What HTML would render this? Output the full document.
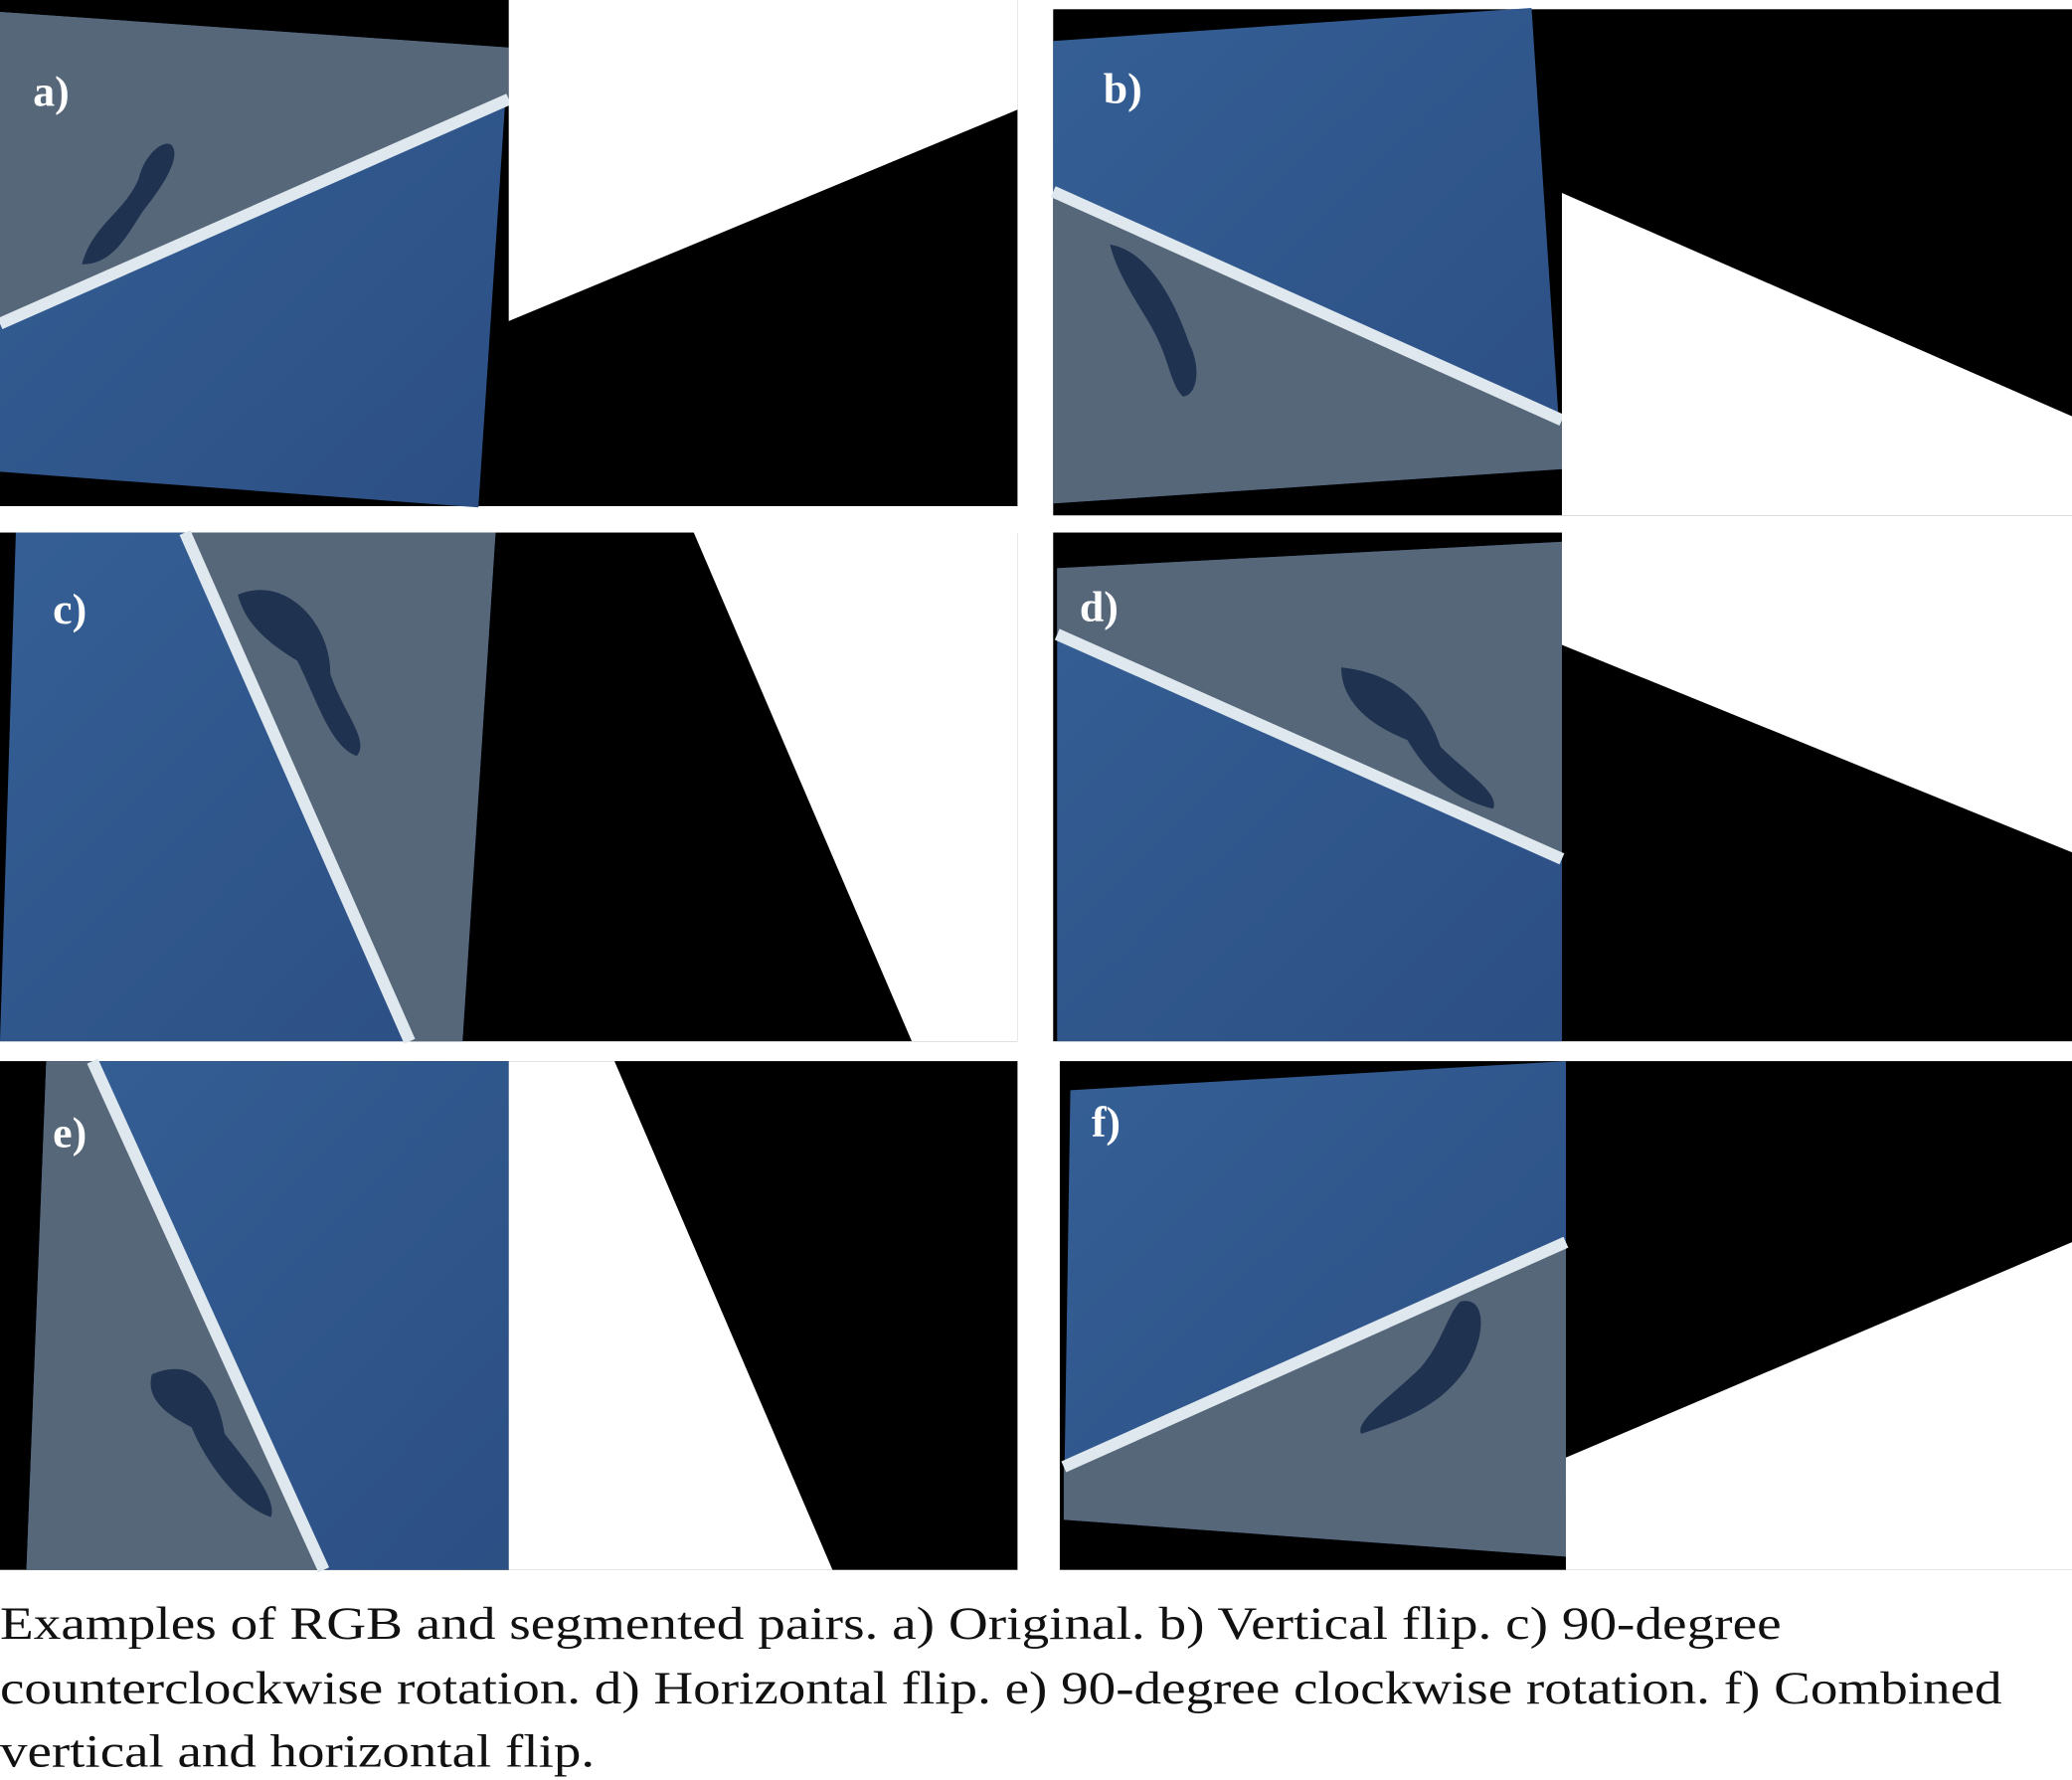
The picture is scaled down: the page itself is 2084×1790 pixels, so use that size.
<!DOCTYPE html>
<html><head><meta charset="utf-8"><style>
html,body{margin:0;padding:0;background:#fff;width:2084px;height:1790px;overflow:hidden}
svg{display:block}
.lbl{font-family:"Liberation Serif",serif;font-weight:bold;font-size:33px;fill:#fff}
.cap{font-family:"Liberation Serif",serif;font-size:35px;fill:#111}
</style></head><body>
<svg width="2084" height="1790" viewBox="0 0 1568 1347" preserveAspectRatio="none" xmlns="http://www.w3.org/2000/svg">
<defs>
<linearGradient id="sea" x1="0" y1="0" x2="1" y2="1"><stop offset="0" stop-color="#345f95"/><stop offset="1" stop-color="#2c4f84"/></linearGradient>
</defs>
<!-- a -->
<g>
<rect x="0" y="0" width="770" height="383" fill="#000"/>
<polygon points="0,9 385,36 362,384 0,357" fill="url(#sea)"/>
<polygon points="0,9 385,36 385,75 0,245" fill="#56677a"/>
<line x1="0" y1="245" x2="385" y2="75" stroke="#dfe8ee" stroke-width="9"/>
<path d="M62,200 C70,170 95,160 105,135 C110,115 125,105 130,110 C138,120 120,145 108,160 C95,180 85,200 62,200Z" fill="#1f3250"/>
<polygon points="385,0 770,0 770,83 385,243" fill="#fff"/>
<text class="lbl" x="25" y="80">a)</text>
</g>
<!-- b -->
<g>
<rect x="797" y="7" width="771" height="383" fill="#000"/>
<polygon points="797,31 1159,6 1182,355 797,381" fill="url(#sea)"/>
<polygon points="797,145 1182,318 1182,355 797,381" fill="#56677a"/>
<line x1="797" y1="145" x2="1182" y2="318" stroke="#dfe8ee" stroke-width="9"/>
<path d="M840,185 C870,190 890,230 900,260 C910,280 905,300 895,300 C885,290 885,270 870,245 C855,220 845,205 840,185Z" fill="#1f3250"/>
<polygon points="1182,146 1568,315 1568,390 1182,390" fill="#fff"/>
<text class="lbl" x="835" y="78">b)</text>
</g>
<!-- c -->
<g>
<rect x="0" y="403" width="770" height="385" fill="#000"/>
<polygon points="12,403 375,403 350,788 0,788" fill="url(#sea)"/>
<polygon points="140,403 375,403 350,788 310,788" fill="#56677a"/>
<line x1="140" y1="403" x2="310" y2="788" stroke="#dfe8ee" stroke-width="9"/>
<path d="M180,450 C215,435 250,470 250,510 C260,540 280,560 270,572 C250,565 240,530 225,500 C200,485 185,470 180,450Z" fill="#1f3250"/>
<polygon points="525,403 770,403 770,788 690,788" fill="#fff"/>
<text class="lbl" x="40" y="472">c)</text>
</g>
<!-- d -->
<g>
<rect x="797" y="403" width="771" height="385" fill="#000"/>
<polygon points="800,430 1182,410 1182,788 800,788" fill="url(#sea)"/>
<polygon points="800,430 1182,410 1182,650 800,480" fill="#56677a"/>
<line x1="800" y1="480" x2="1182" y2="650" stroke="#dfe8ee" stroke-width="9"/>
<path d="M1015,505 C1060,510 1080,535 1090,565 C1110,585 1135,600 1130,612 C1100,605 1080,585 1065,560 C1035,548 1015,530 1015,505Z" fill="#1f3250"/>
<polygon points="1182,488 1568,645 1568,403 1182,403" fill="#fff"/>
<text class="lbl" x="817" y="470">d)</text>
</g>
<!-- e -->
<g>
<rect x="0" y="803" width="770" height="385" fill="#000"/>
<polygon points="35,803 385,803 385,1188 20,1188" fill="url(#sea)"/>
<polygon points="35,803 70,803 245,1188 20,1188" fill="#56677a"/>
<line x1="70" y1="803" x2="245" y2="1188" stroke="#dfe8ee" stroke-width="9"/>
<path d="M115,1040 C150,1025 165,1055 170,1085 C190,1110 210,1135 205,1148 C180,1140 155,1105 145,1080 C125,1070 110,1058 115,1040Z" fill="#1f3250"/>
<polygon points="385,803 465,803 630,1188 385,1188" fill="#fff"/>
<text class="lbl" x="40" y="868">e)</text>
</g>
<!-- f -->
<g>
<rect x="802" y="803" width="766" height="385" fill="#000"/>
<polygon points="810,825 1185,803 1185,1178 805,1150" fill="url(#sea)"/>
<polygon points="805,1110 1185,940 1185,1178 805,1150" fill="#56677a"/>
<line x1="805" y1="1110" x2="1185" y2="940" stroke="#dfe8ee" stroke-width="9"/>
<path d="M1105,985 C1125,980 1125,1010 1110,1035 C1090,1065 1060,1075 1030,1085 C1025,1075 1055,1055 1075,1035 C1092,1015 1095,995 1105,985Z" fill="#1f3250"/>
<polygon points="1185,1103 1568,940 1568,1188 1185,1188" fill="#fff"/>
<text class="lbl" x="826" y="860">f)</text>
</g>
<g>
<text class="cap" x="0" y="1240" textLength="1348" lengthAdjust="spacingAndGlyphs">Examples of RGB and segmented pairs. a) Original. b) Vertical flip. c) 90-degree</text>
<text class="cap" x="0" y="1289" textLength="1515" lengthAdjust="spacingAndGlyphs">counterclockwise rotation. d) Horizontal flip. e) 90-degree clockwise rotation. f) Combined</text>
<text class="cap" x="0" y="1337" textLength="450" lengthAdjust="spacingAndGlyphs">vertical and horizontal flip.</text>
</g>
</svg>
</body></html>
